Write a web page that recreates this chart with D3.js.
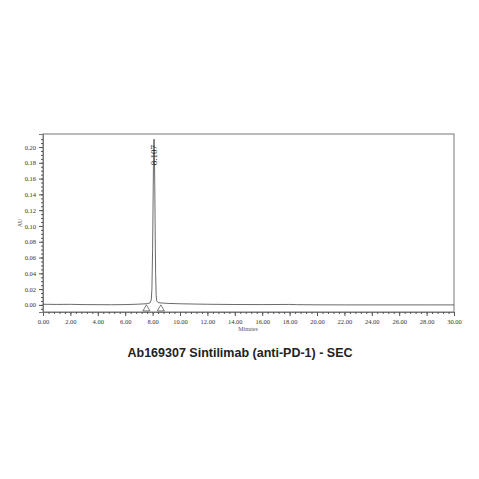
<html>
<head>
<script src="https://d3js.org/d3.v7.min.js"></script>
<style>body{margin:0;background:#fff}</style>
</head>
<body>
<script>
var times = [0, 1, 2, 3, 4, 5, 6, 6.8, 7.3, 7.6, 7.8, 7.9, 7.95, 8.0, 8.03, 8.06, 8.09, 8.107, 8.13, 8.16, 8.19, 8.22, 8.26, 8.3, 8.4, 8.6, 9, 10, 12, 14, 16, 18, 18.5, 20, 22, 24, 26, 28, 30];
var au = [0.0008, 0.0006, 0.0007, 0.0004, 0.0003, 0.0002, 0.0004, 0.0008, 0.0012, 0.0015, 0.0025, 0.006, 0.02, 0.07, 0.12, 0.175, 0.205, 0.21, 0.195, 0.15, 0.09, 0.04, 0.012, 0.005, 0.003, 0.0025, 0.002, 0.0014, 0.0008, 0.0005, 0.0004, 0.0006, 0.0003, 0.0001, 0, 0, 0, 0, 0];
var xTicks = d3.range(0, 30.01, 2);
var yTicks = d3.range(0, 0.201, 0.02);
var peakLabel = "8.107";
var markers = [7.55, 8.6];

var W = 479, H = 479;
var svg = d3.select('body').append('svg').attr('width', W).attr('height', H);
var x = d3.scaleLinear().domain([0, 30]).range([43, 454]);
var y = d3.scaleLinear().domain([-0.009, 0.2165]).range([312, 134]);
var font = 'Liberation Serif';

svg.append('rect').attr('x', 43).attr('y', 134).attr('width', 411).attr('height', 178)
   .attr('fill', 'none').attr('stroke', '#777').attr('stroke-width', 1);

var xa = svg.append('g').attr('transform', 'translate(0,312)')
   .call(d3.axisBottom(x).tickValues(xTicks).tickSize(4).tickFormat(d3.format('.2f')));
xa.selectAll('text').attr('font-family', font).attr('font-size', 6.5).attr('fill', '#333');
svg.append('g').attr('transform', 'translate(0,312)')
   .call(d3.axisBottom(x).tickValues(d3.range(0, 30.01, 0.4)).tickSize(2).tickFormat(''));
var ya = svg.append('g').attr('transform', 'translate(43,0)')
   .call(d3.axisLeft(y).tickValues(yTicks).tickSize(4).tickFormat(d3.format('.2f')));
ya.selectAll('text').attr('font-family', font).attr('font-size', 6.5).attr('fill', '#333');
svg.append('g').attr('transform', 'translate(43,0)')
   .call(d3.axisLeft(y).tickValues(d3.range(-0.005, 0.2101, 0.005)).tickSize(2).tickFormat(''));
svg.selectAll('.domain').attr('stroke', '#777');
svg.selectAll('.tick line').attr('stroke', '#555');

svg.append('text').attr('x', 248).attr('y', 331).attr('text-anchor', 'middle')
   .attr('font-family', font).attr('font-size', 6).attr('fill', '#555').text('Minutes');
svg.append('text').attr('transform', 'translate(22,223) rotate(-90)').attr('text-anchor', 'middle')
   .attr('font-family', font).attr('font-size', 6).attr('fill', '#555').text('AU');

var pts = times.map((t, i) => [t, au[i]]);
svg.append('path').datum(pts).attr('fill', 'none').attr('stroke', '#444').attr('stroke-width', 0.8)
   .attr('d', d3.line().x(d => x(d[0])).y(d => y(d[1])));

svg.append('text').attr('transform', 'translate(' + (x(8.107) + 3) + ',' + y(0.177) + ') rotate(-90)')
   .attr('font-family', font).attr('font-size', 9).attr('fill', '#333').text(peakLabel);

markers.forEach(function (m) {
  var cx = x(m), cy = y(0) + 1;
  svg.append('path').attr('d', 'M' + (cx - 3.5) + ',' + (cy + 5) + 'L' + cx + ',' + (cy - 1) + 'L' + (cx + 3.5) + ',' + (cy + 5) + 'Z')
     .attr('fill', 'none').attr('stroke', '#444').attr('stroke-width', 0.7);
});

svg.append('text').attr('x', 240).attr('y', 357).attr('text-anchor', 'middle')
   .attr('font-family', 'Liberation Sans').attr('font-weight', 'bold').attr('font-size', 12.5)
   .attr('fill', '#222').text('Ab169307 Sintilimab (anti-PD-1) - SEC');
</script>
</body>
</html>
